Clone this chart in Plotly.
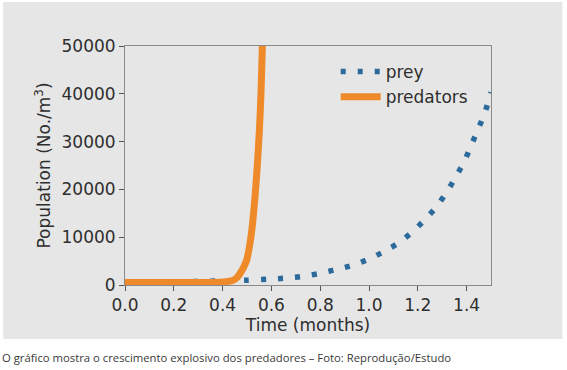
import plotly.graph_objects as go

# ---- data ----
prey_t = [0.0, 0.1, 0.2, 0.3, 0.4, 0.5, 0.581, 0.649, 0.72, 0.793, 0.864, 0.934, 0.998,
          1.062, 1.124, 1.18, 1.229, 1.278, 1.319, 1.356, 1.39, 1.418, 1.447, 1.474, 1.5]
prey_v = [550, 600, 660, 740, 850, 1000, 1200, 1400, 1750, 2380, 3220, 4140, 5400,
          7000, 8900, 11200, 13670, 16470, 19500, 22650, 25800, 29100, 32600, 35900, 40300]

pred_t = [0.0, 0.1, 0.2, 0.3, 0.39, 0.42, 0.444, 0.46, 0.472, 0.486, 0.499, 0.51, 0.52,
          0.533, 0.543, 0.551, 0.557, 0.563, 0.57]
pred_v = [500, 500, 500, 510, 600, 750, 1000, 1600, 2460, 3700, 5260, 8000, 11570,
          18570, 25600, 32600, 39600, 50000, 62000]

x_ticks = [0.0, 0.2, 0.4, 0.6, 0.8, 1.0, 1.2, 1.4]
y_ticks = [0, 10000, 20000, 30000, 40000, 50000]

caption = "O gráfico mostra o crescimento explosivo dos predadores – Foto: Reprodução/Estudo"

W, H = 567, 370
L, R, T, B = 125, 491.5, 46, 285

fig = go.Figure()
fig.add_trace(go.Scatter(x=prey_t, y=prey_v, mode="lines", name="prey",
                         line=dict(color="#2b6a9b", width=5.5, dash="5px,12px",
                                   shape="spline", smoothing=0.6)))
fig.add_trace(go.Scatter(x=pred_t, y=pred_v, mode="lines", name="predators",
                         line=dict(color="#ef8a2b", width=7,
                                   shape="spline", smoothing=0.5)))

def px(xp):
    return (xp - L) / (R - L)

def py(yp):
    return (B - yp) / (B - T)

fig.add_shape(type="rect", xref="paper", yref="paper",
              x0=px(3), x1=px(563), y0=py(339), y1=py(2),
              fillcolor="#e6e6e6", line_width=0, layer="below")

fig.add_annotation(text=caption, xref="paper", yref="paper",
                   x=px(0), y=py(357), xanchor="left", yanchor="middle",
                   showarrow=False,
                   font=dict(family="Open Sans", size=11.3, color="#3a3a3a"))

axis_common = dict(showgrid=False, zeroline=False, showline=True, mirror=True,
                   linecolor="#8a8a8a", linewidth=1, ticks="outside", ticklen=5,
                   tickcolor="#555555",
                   tickfont=dict(family="DejaVu Sans", size=17, color="#2e2e2e"))

fig.update_xaxes(range=[0, 1.5], tickvals=x_ticks, tickformat=".1f",
                 title=dict(text="Time (months)", standoff=4,
                            font=dict(family="DejaVu Sans", size=17, color="#2e2e2e")),
                 **axis_common)
fig.update_yaxes(range=[0, 50000], tickvals=y_ticks, tickformat="d",
                 title=dict(text="Population (No./m<sup>3</sup>)", standoff=6,
                            font=dict(family="DejaVu Sans", size=17, color="#2e2e2e")),
                 **axis_common)

fig.update_layout(
    width=W, height=H,
    margin=dict(l=L, r=W - R, t=T, b=H - B, pad=0),
    paper_bgcolor="white", plot_bgcolor="#e6e6e6",
    showlegend=True,
    legend=dict(x=px(336), y=py(54), xanchor="left", yanchor="top",
                bgcolor="rgba(0,0,0,0)", borderwidth=0,
                font=dict(family="DejaVu Sans", size=17, color="#2e2e2e"),
                itemwidth=40, tracegroupgap=0),
)

fig.write_html("out.html", config={"displayModeBar": False},
               post_script="document.body.style.margin='0';document.body.style.overflow='hidden';")
